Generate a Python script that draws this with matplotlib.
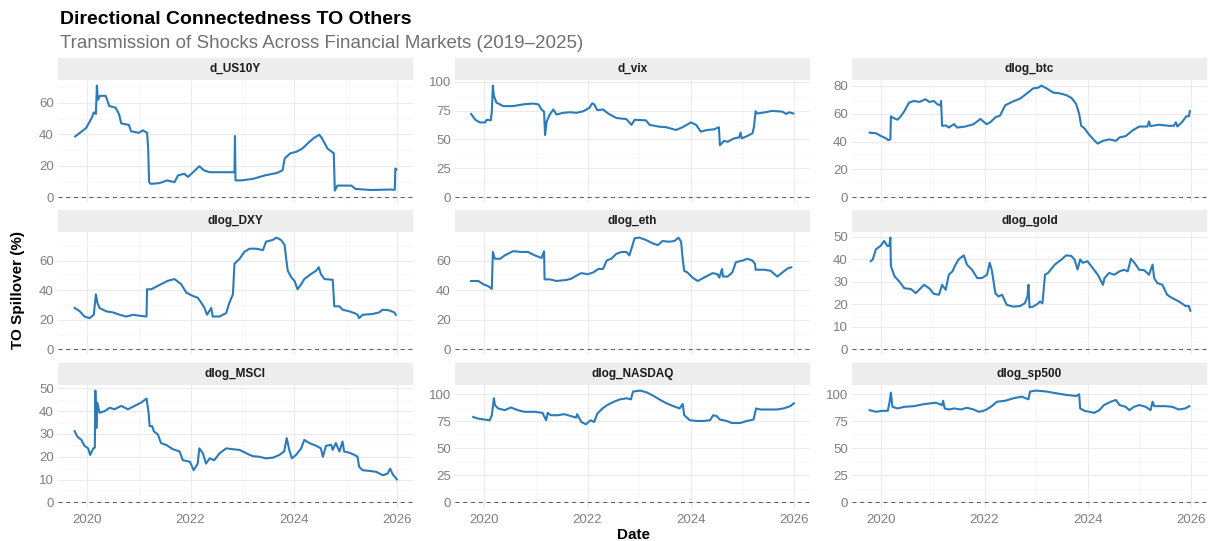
import numpy as np
import matplotlib
matplotlib.use("Agg")
import matplotlib.pyplot as plt
from matplotlib.ticker import MultipleLocator

plt.rcParams['font.family'] = ['Liberation Sans', 'DejaVu Sans']

# panel names, in facet order
panels = ['d_US10Y', 'd_vix', 'dlog_btc',
          'dlog_DXY', 'dlog_eth', 'dlog_gold',
          'dlog_MSCI', 'dlog_NASDAQ', 'dlog_sp500']

# y tick step of each panel
steps = [20, 25, 20, 20, 20, 10, 10, 25, 25]

# dates as decimal years, TO spillover in %
t_us10y = [2019.77, 2019.98, 2020.09, 2020.13, 2020.17, 2020.19, 2020.21, 2020.25, 2020.36, 2020.43,
           2020.55, 2020.62, 2020.66, 2020.81, 2020.85, 2021.0, 2021.08, 2021.16, 2021.18, 2021.2,
           2021.23, 2021.38, 2021.46, 2021.54, 2021.69, 2021.76, 2021.88, 2021.95, 2022.05, 2022.17,
           2022.26, 2022.37, 2022.59, 2022.85, 2022.86, 2022.87, 2022.98, 2023.21, 2023.44, 2023.67,
           2023.78, 2023.82, 2023.93, 2024.05, 2024.16, 2024.27, 2024.38, 2024.49, 2024.54, 2024.65,
           2024.77, 2024.79, 2024.84, 2025.11, 2025.19, 2025.49, 2025.87, 2025.95, 2025.96, 2025.98]
v_us10y = [38.7, 44, 50.5, 54, 53, 71, 62, 64.5, 64.5, 58,
           57, 52.7, 47, 46, 42, 41, 42.6, 41, 32, 9.7,
           8.6, 9, 9.7, 10.8, 9.7, 14, 15, 13, 16, 19.8,
           17.2, 16, 16, 16, 39, 10.8, 10.8, 11.8, 14, 15.5,
           17.2, 24.7, 28, 29, 31, 34.4, 37.6, 39.8, 37.6, 31,
           28, 4.3, 7.5, 7.5, 5.4, 4.7, 5, 4.8, 18.3, 17.8]

t_vix = [2019.75, 2019.83, 2019.92, 2020.02, 2020.05, 2020.13, 2020.15, 2020.17, 2020.19, 2020.24,
         2020.37, 2020.56, 2020.76, 2020.95, 2021.05, 2021.11, 2021.16, 2021.18, 2021.21, 2021.27,
         2021.34, 2021.4, 2021.53, 2021.66, 2021.79, 2021.92, 2022.04, 2022.09, 2022.13, 2022.19,
         2022.3, 2022.4, 2022.56, 2022.75, 2022.85, 2022.91, 2023.13, 2023.2, 2023.39, 2023.52,
         2023.71, 2023.84, 2024.0, 2024.1, 2024.19, 2024.32, 2024.45, 2024.54, 2024.56, 2024.64,
         2024.71, 2024.83, 2024.93, 2024.96, 2024.98, 2025.06, 2025.19, 2025.22, 2025.25, 2025.28,
         2025.44, 2025.57, 2025.77, 2025.84, 2025.9, 2025.98]
v_vix = [72, 67, 64.7, 64.7, 67, 66.5, 74.4, 96.5, 87.6, 81.8,
         78.8, 78.8, 80.3, 81, 80.3, 75.9, 74, 53.8, 65.6, 71.5,
         75.9, 71.5, 73, 73.5, 73, 74.4, 77.4, 81.2, 80.3, 75.3,
         75.9, 72.4, 68.5, 67.6, 62.6, 67, 66.5, 62.6, 61, 60.6,
         58.2, 60.6, 64.7, 62.6, 56.8, 58.2, 58.8, 60.6, 45, 48.8,
         48, 50.9, 51.8, 56, 51, 52.4, 55.3, 61.2, 74.4, 72.4,
         73.5, 74.7, 74, 72, 73.5, 72.4]

t_btc = [2019.78, 2019.9, 2020.0, 2020.1, 2020.14, 2020.18, 2020.19, 2020.24, 2020.32, 2020.38,
         2020.45, 2020.54, 2020.64, 2020.74, 2020.86, 2020.93, 2021.02, 2021.09, 2021.15, 2021.16,
         2021.18, 2021.25, 2021.31, 2021.41, 2021.47, 2021.63, 2021.79, 2021.92, 2022.04, 2022.11,
         2022.21, 2022.3, 2022.4, 2022.56, 2022.69, 2022.82, 2022.94, 2023.04, 2023.1, 2023.2,
         2023.33, 2023.46, 2023.58, 2023.68, 2023.77, 2023.83, 2023.87, 2023.93, 2024.03, 2024.13,
         2024.19, 2024.29, 2024.41, 2024.54, 2024.61, 2024.73, 2024.86, 2024.99, 2025.15, 2025.18,
         2025.21, 2025.37, 2025.57, 2025.66, 2025.7, 2025.73, 2025.83, 2025.9, 2025.95, 2025.97]
v_btc = [46.3, 45.9, 43.9, 42.2, 41, 41.5, 58, 56.8, 55.6, 58,
         61.7, 67.8, 69, 68.3, 70.2, 68.3, 69, 66.6, 65.9, 69,
         51.2, 51.5, 50, 52.4, 50, 50.7, 52.4, 56.1, 52.4, 53.7,
         57.3, 58.5, 65.9, 68.8, 70.7, 74.4, 78, 78.5, 80, 78,
         75, 74.4, 73.2, 71.2, 67, 59.8, 51.2, 49.5, 44.6, 40.5,
         38.5, 40.5, 41.5, 40.5, 42.9, 43.9, 47.8, 50.7, 50.7, 54.4,
         51, 52, 51.2, 51.2, 53.7, 50.7, 54.4, 58, 58, 61.7]

t_dxy = [2019.76, 2019.86, 2019.95, 2020.05, 2020.13, 2020.17, 2020.2, 2020.24, 2020.37, 2020.5,
         2020.63, 2020.76, 2020.89, 2021.02, 2021.15, 2021.16, 2021.24, 2021.34, 2021.43, 2021.56,
         2021.69, 2021.82, 2021.92, 2022.05, 2022.14, 2022.21, 2022.27, 2022.32, 2022.36, 2022.4,
         2022.43, 2022.56, 2022.69, 2022.75, 2022.82, 2022.85, 2022.95, 2023.04, 2023.14, 2023.27,
         2023.4, 2023.46, 2023.59, 2023.66, 2023.75, 2023.82, 2023.85, 2023.88, 2023.95, 2024.01,
         2024.07, 2024.14, 2024.2, 2024.33, 2024.43, 2024.48, 2024.52, 2024.59, 2024.75, 2024.78,
         2024.88, 2024.94, 2025.07, 2025.17, 2025.23, 2025.26, 2025.33, 2025.52, 2025.65, 2025.71,
         2025.84, 2025.94, 2025.97]
v_dxy = [28, 25.7, 22.2, 21.1, 23.4, 37.2, 31.4, 28, 25.7, 25,
         23.4, 22.2, 23.4, 22.7, 22.2, 40.6, 40.6, 42.4, 44, 46.3,
         47.5, 44, 38.3, 36, 34.9, 31.4, 28, 23.4, 25.7, 28,
         22.2, 22.2, 24.5, 31.4, 37.2, 57.8, 61.2, 65.8, 68, 68,
         67, 72.7, 73.9, 75.5, 73.9, 70.5, 61.2, 53.2, 48.6, 46.3,
         40.6, 44, 47.5, 50.9, 53.2, 55.5, 50.9, 47.5, 47, 29.1,
         29.1, 26.8, 25.7, 24.5, 23.4, 21.1, 23.4, 23.9, 25, 26.8,
         26.4, 25, 23.4]

t_eth = [2019.75, 2019.89, 2019.99, 2020.08, 2020.15, 2020.17, 2020.21, 2020.31, 2020.4, 2020.56,
         2020.73, 2020.85, 2020.98, 2021.11, 2021.16, 2021.17, 2021.27, 2021.4, 2021.59, 2021.69,
         2021.78, 2021.88, 2022.01, 2022.11, 2022.21, 2022.3, 2022.37, 2022.46, 2022.56, 2022.66,
         2022.75, 2022.81, 2022.84, 2022.91, 2023.0, 2023.13, 2023.26, 2023.36, 2023.45, 2023.58,
         2023.68, 2023.76, 2023.81, 2023.84, 2023.87, 2023.93, 2024.03, 2024.13, 2024.19, 2024.29,
         2024.42, 2024.51, 2024.55, 2024.6, 2024.62, 2024.71, 2024.8, 2024.87, 2025.0, 2025.09,
         2025.19, 2025.24, 2025.25, 2025.42, 2025.54, 2025.67, 2025.77, 2025.87, 2025.94]
v_eth = [46.2, 46.2, 43.9, 42.7, 40.9, 65.8, 61.2, 61.2, 63.5, 66.3,
         65.8, 65.8, 63.5, 61.7, 66.3, 47.3, 47.3, 46.2, 46.9, 47.8,
         49.7, 51.5, 50.8, 52, 54.3, 54.3, 60, 61.2, 64.6, 65.8,
         65.8, 63.5, 66.9, 75, 75.5, 73.9, 71.6, 70.4, 73.2, 72.7,
         73.2, 75.5, 72.7, 61.2, 53.1, 52, 48.5, 46.2, 47.3, 49.2,
         51.5, 50.8, 48.5, 54.3, 49.2, 49.2, 52, 58.9, 60, 61.2,
         60, 57.7, 53.8, 53.8, 53.1, 49.2, 52, 54.7, 55.4]

t_gold = [2019.8, 2019.84, 2019.9, 2019.99, 2020.06, 2020.12, 2020.16, 2020.18, 2020.19, 2020.26,
          2020.35, 2020.45, 2020.58, 2020.67, 2020.83, 2020.93, 2021.02, 2021.12, 2021.18, 2021.25,
          2021.31, 2021.38, 2021.44, 2021.5, 2021.6, 2021.66, 2021.76, 2021.86, 2021.95, 2022.05,
          2022.1, 2022.14, 2022.21, 2022.27, 2022.34, 2022.43, 2022.56, 2022.69, 2022.78, 2022.83,
          2022.85, 2022.87, 2022.94, 2023.04, 2023.07, 2023.12, 2023.17, 2023.23, 2023.36, 2023.49,
          2023.58, 2023.68, 2023.74, 2023.8, 2023.85, 2023.9, 2023.99, 2024.09, 2024.19, 2024.29,
          2024.32, 2024.41, 2024.51, 2024.61, 2024.7, 2024.77, 2024.83, 2024.9, 2024.99, 2025.09,
          2025.18, 2025.25, 2025.28, 2025.34, 2025.44, 2025.53, 2025.63, 2025.76, 2025.89, 2025.95,
          2025.98]
v_gold = [39.2, 40, 44.5, 46, 48.2, 46, 46, 49.7, 37, 32.5,
          30.2, 27.2, 26.8, 25, 28.7, 27.2, 24.7, 24.3, 28.7, 26.5,
          33.2, 34.7, 37.7, 40, 41.8, 37.7, 35.4, 31.7, 31.7, 33.2,
          38.5, 35.4, 25, 23.5, 24.3, 19.8, 19, 19.3, 20.5, 23.5,
          28.7, 18.7, 19, 20.5, 21.3, 20.5, 33.2, 34, 37.7, 40,
          41.8, 41.5, 40, 35.5, 40, 38.5, 39.2, 36.2, 33.2, 28.7,
          31.7, 34, 33.2, 34.7, 35.4, 34.7, 40.3, 38.5, 35.4, 35.2,
          33.2, 37.7, 31.7, 29.5, 28.7, 24.3, 22.8, 21.3, 19.3, 19.3,
          17.2]

t_msci = [2019.76, 2019.81, 2019.89, 2019.95, 2020.02, 2020.06, 2020.12, 2020.15, 2020.16, 2020.18,
          2020.2, 2020.24, 2020.34, 2020.44, 2020.53, 2020.66, 2020.79, 2020.92, 2021.05, 2021.15,
          2021.19, 2021.21, 2021.26, 2021.29, 2021.37, 2021.43, 2021.53, 2021.66, 2021.79, 2021.85,
          2021.99, 2022.06, 2022.14, 2022.17, 2022.24, 2022.3, 2022.37, 2022.46, 2022.56, 2022.69,
          2022.82, 2022.95, 2023.08, 2023.2, 2023.33, 2023.46, 2023.59, 2023.72, 2023.81, 2023.86,
          2023.91, 2023.96, 2024.04, 2024.14, 2024.2, 2024.3, 2024.43, 2024.52, 2024.56, 2024.62,
          2024.72, 2024.75, 2024.81, 2024.88, 2024.94, 2024.97, 2025.07, 2025.17, 2025.23, 2025.26,
          2025.33, 2025.46, 2025.59, 2025.72, 2025.81, 2025.86, 2025.91, 2025.99]
v_msci = [31.2, 28.9, 27.4, 24.8, 23.7, 20.8, 23.7, 24, 49, 32.6,
          43.6, 39.3, 40, 41.5, 40.8, 42.3, 40.8, 42.3, 43.8, 45.5,
          39.3, 33.4, 33.4, 31.2, 29.7, 26, 25.2, 23.3, 22.3, 18.5,
          17.8, 14.1, 17, 23.7, 21.5, 17, 19.3, 18.5, 21.5, 23.7,
          23.3, 23, 21.5, 20.3, 20, 19.3, 19.6, 20.8, 22.3, 28.2,
          23, 19.3, 20.8, 23.7, 27.4, 26, 24.8, 23.7, 20, 24.8,
          25.2, 23, 26, 22.3, 26.7, 22.3, 21.8, 20.8, 20, 15.6,
          14.1, 13.8, 13.4, 11.9, 12.6, 14.8, 12.3, 10.1]

t_nasdaq = [2019.79, 2019.88, 2020.01, 2020.11, 2020.15, 2020.19, 2020.21, 2020.27, 2020.4, 2020.52,
            2020.65, 2020.78, 2020.97, 2021.13, 2021.2, 2021.23, 2021.29, 2021.42, 2021.55, 2021.69,
            2021.78, 2021.8, 2021.88, 2021.97, 2022.06, 2022.13, 2022.19, 2022.29, 2022.38, 2022.51,
            2022.63, 2022.76, 2022.84, 2022.88, 2023.02, 2023.15, 2023.28, 2023.41, 2023.53, 2023.66,
            2023.78, 2023.84, 2023.87, 2023.98, 2024.11, 2024.24, 2024.37, 2024.43, 2024.5, 2024.56,
            2024.69, 2024.79, 2024.95, 2025.08, 2025.21, 2025.26, 2025.34, 2025.53, 2025.66, 2025.79,
            2025.92, 2025.99]
v_nasdaq = [79, 77.5, 76.6, 76, 80.6, 96.3, 90, 86.9, 85.3, 87.8,
            85.3, 83.8, 83.8, 82.8, 76, 82.8, 80.6, 80.6, 81.6, 79.7,
            78.4, 81.6, 74.4, 72.2, 76, 74.4, 82.2, 86.9, 90, 93.1,
            95.3, 96.3, 95.3, 102.5, 103.4, 101.6, 98.4, 94.7, 91.6, 89,
            86.9, 91, 80.6, 76, 75.3, 75.3, 76, 80.6, 79.7, 76.6,
            75.3, 73.4, 73.4, 75.3, 76.6, 86.9, 85.9, 85.9, 85.9, 86.9,
            89, 91.6]

t_sp500 = [2019.78, 2019.9, 2020.03, 2020.13, 2020.16, 2020.19, 2020.22, 2020.32, 2020.45, 2020.64,
           2020.83, 2021.06, 2021.18, 2021.2, 2021.23, 2021.31, 2021.41, 2021.54, 2021.66, 2021.79,
           2021.89, 2021.98, 2022.04, 2022.14, 2022.24, 2022.4, 2022.56, 2022.72, 2022.85, 2022.88,
           2023.0, 2023.2, 2023.39, 2023.58, 2023.77, 2023.83, 2023.85, 2023.93, 2024.03, 2024.12,
           2024.22, 2024.31, 2024.44, 2024.54, 2024.61, 2024.73, 2024.8, 2024.89, 2024.99, 2025.12,
           2025.21, 2025.25, 2025.28, 2025.5, 2025.63, 2025.76, 2025.88, 2025.96]
v_sp500 = [85.3, 83.8, 84.7, 84.7, 91.6, 101.6, 88.4, 86.9, 88.4, 89,
           90.9, 92.2, 90, 94, 86.9, 85.9, 86.9, 85.9, 87.5, 85.9,
           83.8, 84.7, 85.9, 89, 93.1, 94, 96.3, 97.8, 95.3, 102.5,
           103.4, 102.5, 100.9, 99.4, 98.4, 100, 86.9, 84.7, 83.8, 82.8,
           85.3, 90, 93.1, 94.7, 90, 88.4, 85.3, 88.4, 90, 88.4,
           85.3, 93.1, 89, 89, 88.4, 85.9, 86.9, 89]

series = {
    'd_US10Y': (t_us10y, v_us10y),
    'd_vix': (t_vix, v_vix),
    'dlog_btc': (t_btc, v_btc),
    'dlog_DXY': (t_dxy, v_dxy),
    'dlog_eth': (t_eth, v_eth),
    'dlog_gold': (t_gold, v_gold),
    'dlog_MSCI': (t_msci, v_msci),
    'dlog_NASDAQ': (t_nasdaq, v_nasdaq),
    'dlog_sp500': (t_sp500, v_sp500),
}

W, H = 1213, 541
fig = plt.figure(figsize=(W / 100, H / 100), dpi=100)
fig.patch.set_facecolor('white')

col_left = [58, 455, 852]
pan_w = 355
row_top = [80, 232, 385]
pan_h = 123
strip_h = 22

line_col = '#2b7bba'
grid_col = '#EBEBEB'

for i, name in enumerate(panels):
    r, c = divmod(i, 3)
    l = col_left[c] / W
    b = 1 - (row_top[r] + pan_h) / H
    ax = fig.add_axes([l, b, pan_w / W, pan_h / H])
    t, v = series[name]
    ax.plot(t, v, color=line_col, lw=1.5, zorder=3)
    ax.axhline(0, color='#555555', lw=0.7, ls=(0, (4, 4)), zorder=2)

    # ggplot-like 5% expansion
    ax.set_xlim(2019.75 - 0.312, 2025.99 + 0.312)
    top = max(v)
    ax.set_ylim(-0.05 * top, top * 1.05)

    ax.xaxis.set_major_locator(MultipleLocator(2))
    ax.xaxis.set_minor_locator(MultipleLocator(1))
    ax.yaxis.set_major_locator(MultipleLocator(steps[i]))
    ax.yaxis.set_minor_locator(MultipleLocator(steps[i] / 2))
    ax.grid(which='major', color=grid_col, lw=0.8)
    ax.grid(which='minor', color='#F5F5F5', lw=0.5)
    ax.set_axisbelow(True)
    for s in ax.spines.values():
        s.set_visible(False)
    ax.tick_params(which='both', length=0)
    ax.tick_params(axis='y', labelsize=9.5, labelcolor='#7f7f7f', pad=3)
    ax.tick_params(axis='x', labelsize=9.5, labelcolor='#7f7f7f', pad=4)
    if r < 2:
        ax.set_xticklabels([])
    else:
        ax.set_xticks([2020, 2022, 2024, 2026])
        ax.set_xticklabels(['2020', '2022', '2024', '2026'])

    # strip on top of the panel
    sb = 1 - row_top[r] / H
    sax = fig.add_axes([l, sb, pan_w / W, strip_h / H])
    sax.set_facecolor('#EDEDED')
    sax.set_xticks([])
    sax.set_yticks([])
    for s in sax.spines.values():
        s.set_visible(False)
    sax.text(0.5, 0.5, name, ha='center', va='center', fontsize=8.5,
             fontweight='bold', color='#1a1a1a', transform=sax.transAxes)

fig.text(60 / W, 1 - 20 / H, 'Directional Connectedness TO Others',
         fontsize=14, fontweight='bold', ha='left', va='center', color='black')
fig.text(60 / W, 1 - 43 / H, 'Transmission of Shocks Across Financial Markets (2019–2025)',
         fontsize=13.5, ha='left', va='center', color='#707070')
fig.text(18 / W, 1 - 290 / H, 'TO Spillover (%)', rotation=90, fontsize=11,
         fontweight='bold', ha='center', va='center')
fig.text(633 / W, 1 - 535 / H, 'Date', fontsize=11, fontweight='bold',
         ha='center', va='center')

fig.savefig('out.png', dpi=100, facecolor='white')
